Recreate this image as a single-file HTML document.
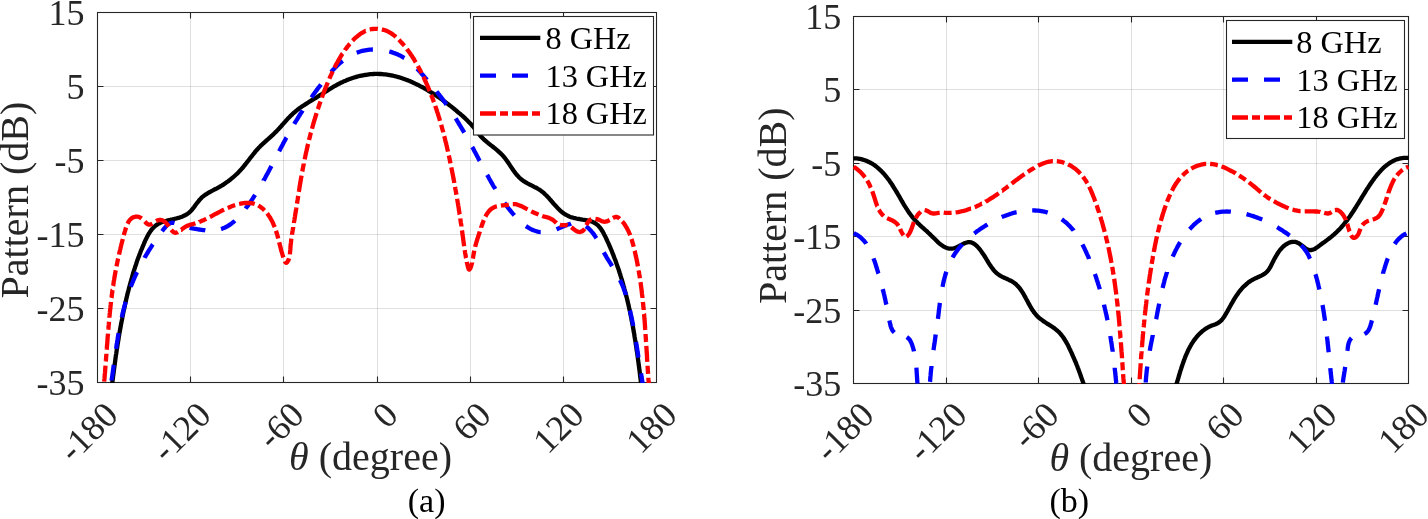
<!DOCTYPE html><html><head><meta charset="utf-8"><style>html,body{margin:0;padding:0;background:#fff;width:1428px;height:519px;overflow:hidden}svg{display:block}svg text{font-family:"Liberation Serif",serif}svg{will-change:transform}</style></head><body>
<svg width="1428" height="519" viewBox="0 0 1428 519" font-family="Liberation Serif">
<defs>
<clipPath id="ca"><rect x="97.0" y="12.0" width="560.0" height="371.0"/></clipPath>
<clipPath id="cb"><rect x="853.0" y="16.0" width="556.0" height="368.0"/></clipPath>
</defs>
<path d="M190.5,12.5V382.5M283.5,12.5V382.5M377.5,12.5V382.5M470.5,12.5V382.5M563.5,12.5V382.5" stroke="#262626" stroke-opacity="0.15" stroke-width="1" fill="none"/>
<path d="M97.5,86.5H656.5M97.5,160.5H656.5M97.5,234.5H656.5M97.5,308.5H656.5" stroke="#262626" stroke-opacity="0.15" stroke-width="1" fill="none"/>
<rect x="97.5" y="12.5" width="559.0" height="370.0" fill="none" stroke="#262626" stroke-width="1.1"/>
<path d="M190.5,382.5v-6.0M190.5,12.5v6.0M283.5,382.5v-6.0M283.5,12.5v6.0M377.5,382.5v-6.0M377.5,12.5v6.0M470.5,382.5v-6.0M470.5,12.5v6.0M563.5,382.5v-6.0M563.5,12.5v6.0M97.5,86.5h6.0M656.5,86.5h-6.0M97.5,160.5h6.0M656.5,160.5h-6.0M97.5,234.5h6.0M656.5,234.5h-6.0M97.5,308.5h6.0M656.5,308.5h-6.0" stroke="#262626" stroke-width="1.1" fill="none"/>
<g clip-path="url(#ca)" fill="none" stroke-width="4.3" stroke-linejoin="round">
<path d="M110.8,394.9L111.0,393.5L111.2,392.0L111.4,390.5L111.5,389.0L111.7,387.6L111.9,386.1L112.1,384.6L112.3,383.1L112.4,381.6L112.6,380.2L112.8,378.7L113.0,377.2L113.2,375.7L113.4,374.2L113.6,372.7L113.8,371.2L114.0,369.7L114.2,368.3L114.4,366.8L114.6,365.3L114.8,363.8L115.0,362.3L115.2,360.8L115.4,359.3L115.6,357.8L115.8,356.3L116.0,354.8L116.3,353.3L116.5,351.8L116.7,350.3L116.9,348.8L117.2,347.4L117.4,345.9L117.6,344.4L117.9,342.9L118.1,341.4L118.4,339.9L118.6,338.4L118.8,336.9L119.1,335.4L119.3,333.9L119.6,332.4L119.9,331.0L120.1,329.5L120.4,328.0L120.7,326.5L120.9,325.0L121.2,323.5L121.5,322.0L121.8,320.6L122.1,319.1L122.3,317.6L122.6,316.1L122.9,314.7L123.2,313.2L123.5,311.7L123.8,310.2L124.2,308.8L124.5,307.3L124.8,305.8L125.1,304.4L125.4,302.9L125.8,301.4L126.1,300.0L126.4,298.5L126.8,297.1L127.1,295.6L127.5,294.2L127.8,292.7L128.2,291.3L128.6,289.8L128.9,288.4L129.3,287.0L129.7,285.5L130.1,284.1L130.5,282.7L130.9,281.2L131.3,279.8L131.7,278.4L132.1,277.0L132.5,275.5L132.9,274.1L133.3,272.7L133.8,271.3L134.2,269.9L134.7,268.4L135.1,267.0L135.6,265.6L136.1,264.2L136.5,262.8L137.0,261.4L137.5,259.9L138.0,258.5L138.6,257.1L139.1,255.7L139.6,254.3L140.2,252.8L140.7,251.4L141.3,250.0L141.9,248.6L142.5,247.1L143.1,245.7L143.7,244.3L144.3,242.8L144.9,241.4L145.6,239.9L146.3,238.5L147.0,237.1L147.7,235.8L148.4,234.4L149.2,233.1L150.1,231.8L150.9,230.6L151.8,229.4L152.8,228.3L153.8,227.3L154.8,226.3L155.9,225.4L157.1,224.6L158.3,223.8L159.6,223.2L160.9,222.6L162.3,222.1L163.7,221.6L165.1,221.2L166.5,220.8L168.0,220.4L169.5,220.0L171.0,219.7L172.5,219.4L174.0,219.0L175.5,218.7L176.9,218.3L178.4,217.9L179.8,217.4L181.2,217.0L182.6,216.4L183.9,215.8L185.2,215.2L186.5,214.5L187.7,213.7L188.8,212.8L189.9,211.9L191.0,210.8L192.0,209.7L192.9,208.5L193.9,207.3L194.8,206.1L195.7,204.8L196.7,203.5L197.6,202.3L198.6,201.1L199.5,199.9L200.6,198.8L201.6,197.7L202.8,196.7L203.9,195.8L205.1,194.9L206.4,194.1L207.6,193.3L208.9,192.5L210.2,191.8L211.5,191.1L212.9,190.4L214.2,189.7L215.5,189.0L216.9,188.3L218.2,187.6L219.5,186.9L220.8,186.1L222.1,185.4L223.3,184.6L224.6,183.7L225.8,182.9L227.0,182.0L228.2,181.2L229.4,180.3L230.6,179.3L231.7,178.4L232.9,177.5L234.0,176.5L235.1,175.5L236.2,174.5L237.3,173.4L238.3,172.4L239.4,171.3L240.4,170.2L241.4,169.1L242.4,168.0L243.4,166.8L244.3,165.7L245.3,164.5L246.2,163.3L247.1,162.1L248.1,160.9L249.0,159.7L249.9,158.5L250.8,157.3L251.8,156.1L252.7,155.0L253.6,153.8L254.6,152.6L255.5,151.4L256.5,150.3L257.5,149.2L258.5,148.1L259.6,147.0L260.6,145.9L261.7,144.9L262.8,143.8L263.9,142.8L265.0,141.8L266.1,140.8L267.2,139.8L268.4,138.8L269.5,137.8L270.6,136.8L271.7,135.8L272.8,134.8L273.9,133.8L275.0,132.7L276.1,131.7L277.1,130.6L278.2,129.5L279.2,128.4L280.2,127.3L281.2,126.2L282.2,125.0L283.2,123.9L284.2,122.8L285.2,121.6L286.2,120.5L287.2,119.4L288.2,118.3L289.3,117.2L290.3,116.1L291.4,115.1L292.5,114.1L293.6,113.0L294.7,112.1L295.8,111.1L297.0,110.2L298.2,109.2L299.4,108.3L300.6,107.5L301.9,106.6L303.1,105.8L304.4,104.9L305.6,104.1L306.9,103.3L308.2,102.5L309.5,101.7L310.8,100.9L312.0,100.1L313.3,99.3L314.6,98.5L315.9,97.8L317.2,97.0L318.5,96.2L319.7,95.4L321.0,94.6L322.3,93.8L323.5,93.0L324.8,92.2L326.0,91.4L327.3,90.6L328.5,89.8L329.8,89.0L331.0,88.3L332.3,87.5L333.6,86.7L334.8,86.0L336.1,85.3L337.4,84.5L338.8,83.8L340.1,83.2L341.4,82.5L342.8,81.9L344.2,81.2L345.6,80.7L347.0,80.1L348.4,79.5L349.8,79.0L351.2,78.5L352.7,78.0L354.1,77.5L355.6,77.1L357.1,76.7L358.5,76.3L360.0,75.9L361.5,75.6L363.0,75.3L364.5,75.0L366.0,74.8L367.5,74.6L369.0,74.4L370.5,74.2L372.0,74.1L373.5,74.0L375.0,73.9L376.5,73.9L377.9,73.9L379.4,74.0L380.9,74.0L382.4,74.1L383.9,74.3L385.4,74.4L386.8,74.6L388.3,74.8L389.8,75.1L391.2,75.4L392.7,75.7L394.1,76.0L395.6,76.3L397.0,76.7L398.4,77.1L399.9,77.5L401.3,78.0L402.7,78.5L404.1,79.0L405.5,79.5L406.9,80.0L408.3,80.6L409.7,81.1L411.1,81.7L412.5,82.3L413.9,83.0L415.2,83.6L416.6,84.3L418.0,84.9L419.3,85.6L420.6,86.3L422.0,87.0L423.3,87.7L424.6,88.5L425.9,89.2L427.2,90.0L428.5,90.8L429.8,91.5L431.1,92.3L432.4,93.1L433.6,93.9L434.9,94.7L436.2,95.6L437.4,96.4L438.6,97.2L439.9,98.1L441.1,98.9L442.3,99.8L443.5,100.7L444.7,101.6L445.9,102.5L447.1,103.4L448.3,104.3L449.5,105.2L450.7,106.1L451.9,107.0L453.0,108.0L454.2,108.9L455.3,109.9L456.5,110.8L457.6,111.8L458.8,112.8L459.9,113.7L461.0,114.7L462.2,115.7L463.3,116.7L464.4,117.7L465.5,118.7L466.6,119.8L467.6,120.8L468.7,121.9L469.8,123.0L470.8,124.0L471.8,125.2L472.8,126.3L473.8,127.4L474.7,128.6L475.6,129.8L476.6,131.0L477.5,132.2L478.4,133.4L479.4,134.6L480.3,135.7L481.3,136.8L482.3,137.9L483.4,138.9L484.5,140.0L485.6,140.9L486.7,141.9L487.9,142.8L489.1,143.8L490.2,144.7L491.4,145.6L492.6,146.5L493.8,147.5L495.0,148.4L496.1,149.3L497.3,150.3L498.4,151.3L499.5,152.3L500.6,153.3L501.7,154.4L502.7,155.5L503.7,156.6L504.7,157.8L505.6,159.0L506.5,160.2L507.4,161.5L508.3,162.8L509.2,164.1L510.0,165.4L510.9,166.7L511.7,167.9L512.6,169.2L513.5,170.5L514.4,171.7L515.3,173.0L516.2,174.1L517.2,175.3L518.2,176.4L519.2,177.5L520.3,178.5L521.4,179.4L522.5,180.3L523.7,181.1L525.0,181.9L526.2,182.7L527.5,183.4L528.9,184.1L530.2,184.8L531.5,185.4L532.9,186.1L534.2,186.8L535.6,187.5L536.9,188.2L538.2,189.0L539.4,189.7L540.7,190.6L541.9,191.5L543.1,192.4L544.2,193.4L545.3,194.5L546.4,195.5L547.4,196.6L548.5,197.7L549.5,198.9L550.5,200.0L551.5,201.2L552.5,202.3L553.5,203.5L554.5,204.6L555.6,205.8L556.6,206.9L557.6,208.0L558.6,209.0L559.7,210.1L560.8,211.1L561.9,212.0L563.0,212.9L564.2,213.7L565.4,214.5L566.7,215.2L567.9,215.8L569.3,216.4L570.6,216.9L572.0,217.4L573.4,217.8L574.9,218.1L576.3,218.5L577.8,218.8L579.4,219.0L580.9,219.3L582.5,219.6L584.0,219.8L585.6,220.1L587.1,220.4L588.6,220.7L590.1,221.1L591.5,221.6L592.9,222.1L594.2,222.7L595.4,223.4L596.5,224.2L597.6,225.1L598.6,226.1L599.6,227.2L600.5,228.3L601.3,229.5L602.1,230.7L602.9,232.0L603.6,233.3L604.3,234.7L605.0,236.0L605.7,237.4L606.3,238.8L607.0,240.2L607.6,241.6L608.3,243.0L608.9,244.4L609.5,245.8L610.1,247.2L610.7,248.6L611.3,250.0L611.9,251.4L612.4,252.8L613.0,254.2L613.5,255.6L614.1,257.1L614.6,258.5L615.2,259.9L615.7,261.3L616.2,262.7L616.7,264.1L617.2,265.6L617.7,267.0L618.2,268.4L618.7,269.8L619.2,271.3L619.6,272.7L620.1,274.1L620.5,275.6L621.0,277.0L621.4,278.4L621.9,279.9L622.3,281.3L622.7,282.8L623.1,284.2L623.5,285.6L624.0,287.1L624.3,288.5L624.7,290.0L625.1,291.4L625.5,292.9L625.9,294.3L626.2,295.8L626.6,297.2L627.0,298.7L627.3,300.2L627.7,301.6L628.0,303.1L628.4,304.5L628.7,306.0L629.0,307.4L629.3,308.9L629.7,310.4L630.0,311.8L630.3,313.3L630.6,314.8L630.9,316.2L631.2,317.7L631.5,319.2L631.7,320.7L632.0,322.1L632.3,323.6L632.6,325.1L632.9,326.5L633.1,328.0L633.4,329.5L633.6,331.0L633.9,332.5L634.2,333.9L634.4,335.4L634.6,336.9L634.9,338.4L635.1,339.9L635.4,341.3L635.6,342.8L635.8,344.3L636.1,345.8L636.3,347.3L636.5,348.8L636.7,350.2L636.9,351.7L637.2,353.2L637.4,354.7L637.6,356.2L637.8,357.7L638.0,359.2L638.2,360.7L638.4,362.2L638.6,363.6L638.8,365.1L639.0,366.6L639.2,368.1L639.4,369.6L639.6,371.1L639.8,372.6L639.9,374.1L640.1,375.6L640.3,377.1L640.5,378.6L640.7,380.1L640.9,381.6L641.1,383.1L641.2,384.6L641.4,386.1L641.6,387.5L641.8,389.0L642.0,390.5L642.2,392.0L642.3,393.5L642.5,395.0" stroke="#000"/>
<path d="M111.6,380.6L111.6,380.2L111.8,378.7L112.1,377.2L112.3,375.7L112.5,374.2L112.7,372.7L112.9,371.2L113.1,369.7L113.3,368.2L113.5,366.8L113.7,365.3L113.8,364.8M116.1,348.9L116.1,348.9L116.3,347.4L116.5,345.9L116.7,344.4L117.0,342.9L117.2,341.4L117.5,339.9L117.7,338.4L117.9,337.0L118.2,335.5L118.4,334.0L118.6,333.1M121.7,317.4L122.0,316.3L122.3,314.9L122.6,313.4L123.0,312.0L123.3,310.5L123.7,309.1L124.1,307.6L124.5,306.2L124.9,304.7L125.3,303.3L125.7,301.9M130.7,286.8L130.9,286.3L131.5,284.9L132.1,283.5L132.6,282.1L133.2,280.7L133.8,279.3L134.4,277.9L135.0,276.6L135.6,275.2L136.3,273.8L136.9,272.4L137.1,272.1M144.5,257.9L144.6,257.7L145.4,256.4L146.1,255.1L146.9,253.8L147.7,252.5L148.5,251.2L149.3,249.9L150.1,248.6L150.9,247.4L151.7,246.1L152.5,244.8L152.9,244.3M162.1,231.2L163.0,230.0L163.9,228.8L164.9,227.7L165.8,226.6L166.8,225.5L167.8,224.6L168.9,223.9L170.0,223.3L171.1,222.9L172.4,222.7L173.7,222.8L174.5,223.0M189.6,227.7L191.1,228.1L192.5,228.4L194.0,228.7L195.5,228.9L197.1,229.2L198.6,229.5L200.1,229.7L201.7,229.9L203.2,230.1L204.7,230.2L205.3,230.3M221.0,229.0L222.4,228.6L223.7,228.1L225.0,227.5L226.3,226.8L227.6,226.2L228.8,225.4L230.0,224.6L231.2,223.8L232.3,222.9L233.5,222.0L234.6,221.0L234.9,220.7M245.6,208.6L246.5,207.3L247.5,206.1L248.4,204.9L249.2,203.6L250.1,202.4L251.0,201.1L251.8,199.9L252.7,198.6L253.5,197.3L254.3,196.1L255.1,194.9M263.6,180.6L263.6,180.5L264.4,179.2L265.1,177.9L265.8,176.6L266.5,175.2L267.3,173.9L268.0,172.6L268.7,171.3L269.4,169.9L270.1,168.6L270.8,167.3L271.4,166.0M279.1,151.3L279.8,150.0L280.5,148.6L281.2,147.3L281.9,146.0L282.6,144.7L283.3,143.3L284.0,142.0L284.7,140.7L285.4,139.4L286.1,138.1L286.5,137.5M294.3,123.9L295.0,122.6L295.8,121.3L296.6,120.1L297.4,118.8L298.2,117.5L298.9,116.3L299.7,115.0L300.5,113.7L301.3,112.5L302.2,111.2L302.6,110.5M311.4,97.5L312.3,96.3L313.1,95.0L314.0,93.8L314.9,92.6L315.8,91.3L316.7,90.1L317.6,88.9L318.5,87.6L319.5,86.4L320.4,85.2L320.9,84.5M331.1,72.0L332.1,70.9L333.1,69.8L334.2,68.7L335.2,67.6L336.3,66.6L337.4,65.5L338.5,64.5L339.6,63.5L340.7,62.5L341.8,61.6L342.8,60.9M356.7,52.7L358.1,52.2L359.5,51.7L360.9,51.3L362.3,50.9L363.7,50.6L365.2,50.3L366.6,50.1L368.1,49.9L369.6,49.7L371.1,49.6L372.6,49.5L372.9,49.5M389.3,51.5L390.8,51.9L392.3,52.4L393.7,52.9L395.2,53.4L396.6,54.0L398.0,54.6L399.3,55.2L400.7,55.9L402.0,56.6L403.3,57.4L404.4,58.0M417.0,68.7L418.1,69.7L419.1,70.8L420.1,71.9L421.1,73.1L422.1,74.2L423.1,75.3L424.1,76.4L425.0,77.6L426.0,78.7L427.0,79.9L427.0,79.9M436.6,91.5L437.5,92.6L438.4,93.8L439.4,95.0L440.3,96.2L441.2,97.4L442.1,98.6L443.0,99.8L443.9,101.0L444.8,102.2L445.6,103.4L446.5,104.6M455.7,118.4L456.5,119.7L457.2,120.9L458.0,122.2L458.8,123.5L459.6,124.8L460.4,126.1L461.1,127.4L461.9,128.7L462.7,130.0L463.4,131.2L464.2,132.6L464.2,132.6M472.2,147.0L473.0,148.3L473.7,149.6L474.4,151.0L475.1,152.3L475.8,153.6L476.5,154.9L477.2,156.3L477.9,157.6L478.6,158.9L479.3,160.3L479.7,160.9M487.1,174.8L487.9,176.1L488.6,177.4L489.3,178.8L490.1,180.1L490.8,181.4L491.5,182.7L492.3,184.0L493.0,185.3L493.8,186.6L494.6,187.8L495.3,189.1L495.3,189.1M504.4,202.9L505.3,204.1L506.2,205.3L507.1,206.5L508.0,207.7L508.9,208.9L509.9,210.1L510.8,211.3L511.8,212.4L512.8,213.6L513.8,214.7L514.3,215.3M525.9,226.1L527.1,226.9L528.4,227.7L529.6,228.4L530.9,229.1L532.2,229.7L533.5,230.3L534.9,230.8L536.3,231.2L537.7,231.6L539.1,231.9L540.5,232.1L540.7,232.1M556.5,229.3L557.9,228.7L559.4,228.1L560.9,227.4L562.3,226.8L563.8,226.2L565.2,225.6L566.6,225.0L568.1,224.5L569.5,224.1L570.9,223.7L571.1,223.6M585.9,226.3L587.2,227.2L588.4,228.2L589.5,229.3L590.6,230.4L591.6,231.6L592.6,232.7L593.5,233.9L594.4,235.1L595.2,236.4L596.0,237.6L596.4,238.2M603.8,252.4L604.4,253.4L605.1,254.7L605.9,256.0L606.6,257.3L607.4,258.6L608.2,259.9L609.0,261.1L609.8,262.4L610.6,263.7L611.4,265.0L612.1,266.1M620.0,280.0L620.4,280.8L621.0,282.1L621.6,283.5L622.2,284.8L622.8,286.2L623.3,287.6L623.8,289.0L624.3,290.4L624.8,291.8L625.3,293.2L625.8,294.7L625.8,294.9M629.9,310.4L630.0,310.6L630.3,312.0L630.6,313.5L631.0,315.0L631.3,316.4L631.6,317.9L631.9,319.4L632.2,320.8L632.5,322.3L632.8,323.8L633.1,325.3L633.2,326.0M636.0,341.8L636.2,343.0L636.4,344.5L636.7,346.0L636.9,347.5L637.2,349.0L637.4,350.5L637.6,352.0L637.9,353.5L638.1,354.9L638.3,356.4L638.5,357.6M641.0,373.4L641.2,374.3L641.4,375.7L641.6,377.2L641.9,378.7L642.1,380.2L642.4,381.7L642.6,383.2L642.9,384.6L643.1,386.1L643.4,387.6L643.6,389.1L643.7,389.1" stroke="#00f"/>
<path d="M103.1,393.5L103.1,393.4L103.2,392.0L103.4,390.5L103.5,389.0L103.7,387.6L103.8,386.1L103.9,385.6M104.2,381.6L104.3,380.2L104.5,378.7L104.6,377.2L104.7,375.7L104.8,374.2L105.0,372.7L105.1,371.2L105.2,369.7L105.3,368.2L105.4,366.7L105.5,365.6M105.8,361.6L105.9,360.7L106.0,359.2L106.1,357.7L106.2,356.2L106.4,354.7L106.4,353.7M106.7,349.7L106.8,348.7L106.9,347.2L107.0,345.6L107.2,344.1L107.3,342.6L107.4,341.1L107.5,339.6L107.6,338.1L107.7,336.6L107.9,335.1L108.0,333.7M108.3,329.7L108.4,329.0L108.5,327.5L108.6,326.0L108.8,324.5L108.9,323.0L109.0,321.8M109.4,317.8L109.4,317.0L109.6,315.5L109.7,314.0L109.9,312.5L110.0,311.0L110.2,309.5L110.4,308.0L110.5,306.5L110.7,305.0L110.8,303.5L111.0,302.0L111.0,301.9M111.5,297.9L111.6,297.5L111.7,296.1L111.9,294.6L112.1,293.1L112.3,291.6L112.5,290.1L112.6,290.0M113.1,286.0L113.2,285.7L113.4,284.3L113.6,282.8L113.8,281.3L114.1,279.9L114.3,278.4L114.6,277.0L114.8,275.5L115.1,274.0L115.3,272.6L115.6,271.1L115.8,270.2M116.5,266.3L116.7,265.3L117.0,263.9L117.3,262.4L117.6,260.9L117.9,259.5L118.1,258.5M119.0,254.6L119.2,253.6L119.6,252.1L119.9,250.7L120.3,249.2L120.6,247.7L121.0,246.2L121.3,244.7L121.7,243.2L122.1,241.7L122.5,240.2L122.8,239.0M123.8,235.2L124.1,234.2L124.5,232.6L125.0,231.1L125.4,229.6L125.9,228.0L126.1,227.5M127.5,223.7L128.2,222.4L128.9,221.2L129.7,220.1L130.6,219.1L131.6,218.3L132.7,217.6L134.0,217.1L135.3,216.7L136.6,216.6L138.0,216.7L139.4,217.1L140.7,217.8L141.6,218.5M144.8,221.6L145.5,222.3L146.6,223.4L147.8,224.2L149.0,224.6L150.3,224.6L151.7,224.1L152.4,223.7M156.1,221.2L157.5,220.4L159.0,220.0L160.3,219.9L161.6,220.1L162.9,220.5L164.1,221.3L165.3,222.2L166.4,223.3L167.4,224.5L168.4,225.9L168.9,226.6M171.2,229.9L172.1,230.9L173.1,231.8L174.1,232.5L175.1,232.8L176.2,232.7L177.4,232.3L177.9,232.0M181.1,229.8L181.2,229.8L182.5,228.7L183.9,227.7L185.3,226.8L186.7,226.0L188.1,225.4L189.5,224.9L190.9,224.5L192.4,224.2L193.8,223.8L195.1,223.4L195.4,223.3M199.1,222.0L199.2,221.9L200.6,221.4L201.9,220.8L203.3,220.2L204.6,219.6L205.9,219.0L206.3,218.8M209.9,217.0L211.2,216.3L212.5,215.6L213.8,214.9L215.1,214.2L216.5,213.5L217.8,212.8L219.1,212.1L220.5,211.4L221.8,210.7L223.2,210.0L224.1,209.6M227.7,207.9L228.8,207.5L230.2,206.9L231.7,206.3L233.1,205.8L234.6,205.3L235.2,205.1M239.1,204.0L240.6,203.7L242.1,203.4L243.6,203.2L245.1,203.0L246.6,203.0L248.1,202.9L249.5,203.0L251.0,203.1L252.4,203.4L253.8,203.7L254.7,204.0M258.3,205.5L259.1,206.0L260.3,206.8L261.5,207.7L262.7,208.6L263.8,209.7L264.5,210.4M267.1,213.4L267.8,214.3L268.7,215.6L269.6,216.9L270.4,218.2L271.1,219.5L271.8,220.8L272.5,222.1L273.1,223.4L273.7,224.8L274.3,226.1L274.7,227.1M276.0,230.8L276.3,231.7L276.7,233.2L277.2,234.6L277.6,236.1L278.0,237.6L278.2,238.4M279.2,242.2L279.5,243.6L279.9,245.1L280.3,246.6L280.7,248.1L281.0,249.6L281.4,251.1L281.9,252.5L282.3,254.0L282.7,255.4L283.2,256.9L283.4,257.5M284.7,261.2L285.2,262.1L285.9,262.8L286.6,262.7L287.4,261.9L288.1,260.7L288.8,259.3L289.1,258.3M289.9,254.4L290.0,253.1L290.1,251.6L290.3,250.0L290.4,248.4L290.5,246.8L290.6,245.3L290.8,243.8L291.0,242.2L291.1,240.7L291.3,239.2L291.4,238.7M292.0,234.8L292.0,234.7L292.2,233.3L292.4,231.8L292.7,230.3L292.9,228.9L293.2,227.4L293.2,227.0M293.9,223.1L293.9,223.0L294.1,221.5L294.4,220.1L294.6,218.6L294.9,217.1L295.1,215.7L295.3,214.2L295.6,212.7L295.8,211.2L296.0,209.8L296.3,208.3L296.4,207.5M297.0,203.6L297.2,202.3L297.4,200.9L297.7,199.4L297.9,197.9L298.1,196.4L298.2,195.8M298.8,191.9L299.1,190.4L299.3,189.0L299.5,187.5L299.8,186.0L300.0,184.5L300.3,183.0L300.5,181.5L300.8,180.0L301.0,178.5L301.3,177.0L301.6,175.6M302.3,171.5L302.4,171.1L302.6,169.6L302.9,168.2L303.2,166.7L303.5,165.2L303.8,163.7L303.8,163.4M304.7,159.3L305.0,157.8L305.3,156.4L305.6,154.9L305.9,153.4L306.2,152.0L306.6,150.5L306.9,149.0L307.2,147.6L307.6,146.1L307.9,144.6L308.1,143.9M309.0,140.1L309.3,138.8L309.7,137.4L310.1,135.9L310.4,134.5L310.8,133.0L311.0,132.5M312.0,128.7L312.4,127.2L312.8,125.8L313.2,124.3L313.6,122.9L314.0,121.5L314.5,120.0L314.9,118.6L315.3,117.2L315.8,115.7L316.2,114.3L316.6,113.1M317.9,109.2L318.1,108.6L318.5,107.2L319.0,105.8L319.5,104.3L320.0,102.9L320.5,101.5L320.5,101.5M321.9,97.6L322.0,97.3L322.5,95.9L323.0,94.4L323.6,93.0L324.1,91.6L324.7,90.2L325.2,88.8L325.8,87.4L326.3,86.0L326.9,84.6L327.5,83.2L327.8,82.5M329.4,78.7L329.8,77.7L330.4,76.3L331.1,74.9L331.7,73.6L332.3,72.2L332.7,71.3M334.5,67.7L335.0,66.8L335.6,65.4L336.3,64.1L337.1,62.8L337.8,61.5L338.5,60.1L339.3,58.8L340.0,57.6L340.8,56.3L341.6,55.0L342.4,53.7L342.6,53.5M344.9,50.2L345.0,50.0L345.9,48.8L346.8,47.6L347.7,46.4L348.7,45.3L349.6,44.1L349.9,43.8M352.6,40.7L353.7,39.6L354.7,38.6L355.8,37.5L357.0,36.6L358.1,35.6L359.3,34.7L360.5,33.8L361.7,33.0L363.0,32.3L364.3,31.6L365.6,30.9L365.7,30.9M369.7,29.5L369.7,29.5L371.2,29.2L372.7,29.0L374.2,28.8L375.8,28.8L377.3,28.8L377.9,28.9M381.9,29.4L383.4,29.8L384.9,30.3L386.4,30.8L387.7,31.4L389.1,32.1L390.4,32.8L391.6,33.6L392.9,34.5L394.0,35.4L395.2,36.3L396.0,37.0M398.9,39.8L399.6,40.5L400.6,41.6L401.6,42.7L402.6,43.8L403.6,44.9L404.4,45.8M406.9,49.0L407.3,49.6L408.2,50.8L409.1,52.0L410.0,53.2L410.8,54.5L411.7,55.7L412.5,57.0L413.3,58.2L414.1,59.5L414.8,60.8L415.6,62.1L415.8,62.4M417.8,66.0L417.8,66.0L418.6,67.4L419.3,68.7L420.0,70.0L420.7,71.4L421.3,72.7L421.5,73.1M423.3,76.8L424.0,78.1L424.6,79.5L425.2,80.8L425.9,82.2L426.5,83.6L427.1,84.9L427.7,86.3L428.3,87.7L428.8,89.1L429.4,90.5L429.7,91.2M431.1,94.8L431.6,96.0L432.2,97.4L432.7,98.8L433.2,100.2L433.7,101.6L433.9,102.2M435.2,105.9L435.7,107.3L436.2,108.7L436.7,110.1L437.1,111.6L437.6,113.0L438.1,114.4L438.5,115.9L439.0,117.3L439.4,118.7L439.8,120.2L440.0,120.9M441.2,124.7L441.5,125.9L441.9,127.4L442.3,128.8L442.7,130.3L443.1,131.7L443.2,132.3M444.2,136.1L444.6,137.5L445.0,139.0L445.3,140.5L445.7,141.9L446.1,143.4L446.4,144.8L446.8,146.3L447.1,147.8L447.4,149.2L447.8,150.7L448.0,151.6M448.8,155.5L449.1,156.6L449.4,158.1L449.7,159.5L450.0,161.0L450.3,162.5L450.5,163.4M451.3,167.3L451.5,168.4L451.8,169.9L452.1,171.3L452.4,172.8L452.7,174.3L453.0,175.8L453.3,177.2L453.5,178.7L453.8,180.2L454.1,181.7L454.3,183.0M455.1,186.9L455.2,187.6L455.4,189.1L455.7,190.5L456.0,192.0L456.2,193.5L456.5,194.8M457.1,198.7L457.2,199.4L457.5,200.9L457.7,202.4L458.0,203.8L458.2,205.3L458.5,206.8L458.7,208.3L458.9,209.8L459.2,211.2L459.4,212.7L459.6,214.2L459.7,214.5M460.3,218.5L460.3,218.6L460.5,220.1L460.7,221.6L460.9,223.1L461.2,224.5L461.4,226.0L461.4,226.4M462.0,230.4L462.0,230.4L462.2,231.9L462.4,233.4L462.6,234.9L462.8,236.3L463.0,237.8L463.2,239.3L463.4,240.8L463.6,242.3L463.8,243.8L464.0,245.3L464.1,246.2M464.7,250.2L464.9,251.3L465.1,252.8L465.4,254.3L465.7,255.9L465.9,257.4L466.1,258.1M466.8,262.0L466.8,262.1L467.2,263.7L467.5,265.3L467.9,266.8L468.3,268.2L468.7,269.2L469.2,269.6L469.7,269.3L470.3,268.4L470.8,267.2L471.3,265.8L471.7,264.3L472.1,262.8L472.1,262.5M472.9,258.6L473.0,258.0L473.2,256.4L473.5,254.8L473.8,253.2L474.1,251.7L474.3,250.7M475.2,246.8L475.4,245.8L475.8,244.4L476.2,243.0L476.6,241.7L477.0,240.3L477.4,238.9L477.9,237.5L478.3,236.2L478.8,234.8L479.2,233.4L479.7,232.0L479.8,231.5M481.1,227.7L481.1,227.6L481.6,226.1L482.1,224.6L482.7,223.1L483.2,221.6L483.8,220.2M485.4,216.6L485.8,215.9L486.5,214.6L487.3,213.3L488.2,212.2L489.1,211.0L490.0,210.0L491.1,209.1L492.2,208.3L493.4,207.6L494.7,207.0L496.0,206.5L496.9,206.3M500.9,205.6L502.1,205.4L503.6,205.3L505.2,205.1L506.7,205.0L508.3,204.8L508.8,204.7M512.8,204.1L514.0,204.1L515.4,204.2L516.8,204.4L518.2,204.9L519.6,205.4L521.0,206.0L522.4,206.7L523.8,207.4L525.2,208.2L526.6,208.9L527.6,209.4M531.2,211.3L532.0,211.7L533.3,212.3L534.7,212.9L536.0,213.6L537.4,214.1L538.5,214.6M542.2,215.9L543.0,216.2L544.4,216.6L545.9,217.0L547.3,217.4L548.7,217.8L550.1,218.4L551.5,219.1L552.8,219.9L554.0,220.8L555.2,221.8L556.3,222.8L556.4,222.9M559.8,224.9L560.1,225.0L561.5,225.2L562.9,225.2L564.5,225.2L566.0,225.2L567.5,225.4L567.7,225.5M571.3,227.3L571.6,227.5L572.9,228.5L574.2,229.5L575.5,230.4L576.7,231.2L578.0,231.7L579.3,232.0L580.6,231.8L581.9,231.4L583.1,230.6L584.1,229.5L584.7,228.7M586.4,225.1L587.0,223.9L587.7,222.5L588.6,221.2L589.6,220.2L590.9,219.5L591.5,219.3M595.4,218.8L596.9,219.1L598.4,219.6L599.9,220.2L601.3,220.9L602.7,221.4L604.1,221.8L605.4,221.7L606.8,221.4L608.2,220.8L609.7,220.0L609.7,220.0M612.9,218.0L614.0,217.4L615.4,216.9L616.8,216.9L618.0,217.4L619.2,218.2L619.7,218.7M622.3,221.5L623.3,222.6L624.2,223.8L625.0,225.0L625.8,226.3L626.6,227.6L627.3,228.9L628.0,230.2L628.6,231.5L629.2,232.9L629.8,234.2L630.2,235.3M631.5,239.1L631.8,239.9L632.2,241.4L632.6,242.8L633.0,244.3L633.4,245.7L633.7,246.8M634.6,250.7L634.9,251.6L635.2,253.1L635.5,254.6L635.8,256.1L636.2,257.6L636.5,259.0L636.8,260.5L637.1,262.0L637.4,263.5L637.6,265.0L637.9,266.4M638.6,270.3L638.7,270.9L639.0,272.4L639.2,273.9L639.5,275.4L639.7,276.8L639.9,278.2M640.5,282.1L640.6,282.8L640.8,284.3L641.0,285.8L641.2,287.2L641.4,288.7L641.6,290.2L641.8,291.7L641.9,293.2L642.1,294.7L642.3,296.2L642.5,297.7L642.5,298.0M642.9,302.0L642.9,302.1L643.1,303.6L643.2,305.1L643.4,306.6L643.5,308.1L643.7,309.6L643.7,310.0M644.0,313.9L644.1,314.1L644.2,315.6L644.3,317.1L644.4,318.6L644.6,320.1L644.7,321.6L644.8,323.0L644.9,324.5L645.0,326.0L645.1,327.5L645.2,329.0L645.3,329.9M645.6,333.9L645.6,335.0L645.7,336.5L645.8,338.0L645.9,339.5L646.0,341.0L646.1,341.9M646.3,345.9L646.4,347.0L646.5,348.5L646.6,350.0L646.7,351.5L646.8,353.0L646.9,354.5L647.0,356.0L647.0,357.5L647.1,359.0L647.2,360.5L647.3,361.8M647.6,365.8L647.6,366.5L647.7,368.0L647.8,369.5L647.9,371.0L648.0,372.5L648.1,373.8M648.4,377.8L648.4,378.5L648.5,380.0L648.7,381.5L648.8,383.0L648.9,384.5L649.0,386.0L649.1,387.5L649.2,389.0L649.4,390.5L649.5,392.0L649.6,393.5L649.6,393.7" stroke="#f00"/>
</g>
<text x="84.5" y="24.8" font-size="36" text-anchor="end" fill="#262626">15</text>
<text x="84.5" y="98.8" font-size="36" text-anchor="end" fill="#262626">5</text>
<text x="84.5" y="172.8" font-size="36" text-anchor="end" fill="#262626">-5</text>
<text x="84.5" y="246.8" font-size="36" text-anchor="end" fill="#262626">-15</text>
<text x="84.5" y="320.8" font-size="36" text-anchor="end" fill="#262626">-25</text>
<text x="84.5" y="394.8" font-size="36" text-anchor="end" fill="#262626">-35</text>
<text transform="translate(111.5,408.5) rotate(-45)" font-size="36" text-anchor="end" dominant-baseline="central" fill="#262626">-180</text>
<text transform="translate(204.5,408.5) rotate(-45)" font-size="36" text-anchor="end" dominant-baseline="central" fill="#262626">-120</text>
<text transform="translate(297.5,408.5) rotate(-45)" font-size="36" text-anchor="end" dominant-baseline="central" fill="#262626">-60</text>
<text transform="translate(391.5,408.5) rotate(-45)" font-size="36" text-anchor="end" dominant-baseline="central" fill="#262626">0</text>
<text transform="translate(484.5,408.5) rotate(-45)" font-size="36" text-anchor="end" dominant-baseline="central" fill="#262626">60</text>
<text transform="translate(577.5,408.5) rotate(-45)" font-size="36" text-anchor="end" dominant-baseline="central" fill="#262626">120</text>
<text transform="translate(670.5,408.5) rotate(-45)" font-size="36" text-anchor="end" dominant-baseline="central" fill="#262626">180</text>
<rect x="473.5" y="16.5" width="180.0" height="118.5" fill="#fff" stroke="#262626" stroke-width="1.1"/>
<path d="M480.0,37.9H540.3" stroke="#000" stroke-width="4.3"/>
<path d="M480.0,75.7H540.3" stroke="#00f" stroke-width="4.3" stroke-dasharray="16,16"/>
<path d="M480.0,113.5H540.3" stroke="#f00" stroke-width="4.3" stroke-dasharray="16,4,8,4"/>
<text x="545.5" y="48.7" font-size="32.3" fill="#000">8 GHz</text>
<text x="545.5" y="86.5" font-size="32.3" fill="#000">13 GHz</text>
<text x="545.5" y="124.3" font-size="32.3" fill="#000">18 GHz</text>
<path d="M946.5,16.5V383.5M1038.5,16.5V383.5M1131.5,16.5V383.5M1223.5,16.5V383.5M1316.5,16.5V383.5" stroke="#262626" stroke-opacity="0.15" stroke-width="1" fill="none"/>
<path d="M853.5,89.5H1408.5M853.5,163.5H1408.5M853.5,236.5H1408.5M853.5,310.5H1408.5" stroke="#262626" stroke-opacity="0.15" stroke-width="1" fill="none"/>
<rect x="853.5" y="16.5" width="555.0" height="367.0" fill="none" stroke="#262626" stroke-width="1.1"/>
<path d="M946.5,383.5v-6.0M946.5,16.5v6.0M1038.5,383.5v-6.0M1038.5,16.5v6.0M1131.5,383.5v-6.0M1131.5,16.5v6.0M1223.5,383.5v-6.0M1223.5,16.5v6.0M1316.5,383.5v-6.0M1316.5,16.5v6.0M853.5,89.5h6.0M1408.5,89.5h-6.0M853.5,163.5h6.0M1408.5,163.5h-6.0M853.5,236.5h6.0M1408.5,236.5h-6.0M853.5,310.5h6.0M1408.5,310.5h-6.0" stroke="#262626" stroke-width="1.1" fill="none"/>
<g clip-path="url(#cb)" fill="none" stroke-width="4.3" stroke-linejoin="round">
<path d="M853.4,158.3L855.0,158.3L856.6,158.4L858.2,158.6L859.7,158.9L861.2,159.2L862.7,159.6L864.1,160.0L865.5,160.5L866.9,161.1L868.3,161.7L869.6,162.3L870.9,163.0L872.1,163.7L873.4,164.5L874.6,165.3L875.8,166.2L876.9,167.1L878.1,168.1L879.2,169.1L880.3,170.1L881.4,171.1L882.4,172.2L883.4,173.3L884.4,174.4L885.4,175.6L886.4,176.8L887.3,178.0L888.2,179.2L889.2,180.4L890.0,181.7L890.9,182.9L891.8,184.2L892.6,185.5L893.4,186.8L894.2,188.1L895.0,189.4L895.8,190.7L896.6,192.0L897.4,193.3L898.1,194.6L898.9,195.9L899.7,197.3L900.4,198.6L901.2,199.9L901.9,201.2L902.7,202.5L903.4,203.8L904.2,205.1L905.0,206.4L905.8,207.6L906.6,208.9L907.4,210.1L908.2,211.4L909.0,212.6L909.9,213.8L910.8,215.0L911.7,216.2L912.6,217.3L913.5,218.4L914.5,219.6L915.5,220.7L916.5,221.7L917.5,222.8L918.6,223.8L919.6,224.8L920.7,225.9L921.8,226.9L923.0,227.9L924.1,228.9L925.2,229.9L926.4,230.9L927.5,231.9L928.6,233.0L929.8,234.1L930.9,235.2L932.0,236.3L933.2,237.4L934.3,238.5L935.4,239.6L936.5,240.7L937.6,241.8L938.7,242.8L939.9,243.8L941.0,244.7L942.2,245.5L943.3,246.3L944.5,247.0L945.7,247.5L947.0,248.0L948.2,248.4L949.5,248.6L950.8,248.7L952.1,248.6L953.5,248.4L954.9,248.0L956.3,247.4L957.8,246.7L959.3,246.0L960.8,245.2L962.3,244.4L963.8,243.6L965.3,243.0L966.8,242.5L968.2,242.2L969.6,242.2L971.0,242.4L972.3,242.8L973.6,243.5L974.9,244.3L976.1,245.3L977.2,246.4L978.3,247.6L979.4,248.9L980.4,250.1L981.3,251.4L982.2,252.7L983.1,254.0L984.0,255.3L984.8,256.5L985.6,257.8L986.3,259.1L987.1,260.3L987.9,261.6L988.6,262.8L989.4,264.1L990.2,265.3L991.0,266.5L991.9,267.7L992.8,268.9L993.7,270.1L994.7,271.2L995.8,272.3L996.9,273.3L998.0,274.2L999.3,275.1L1000.6,275.9L1001.9,276.6L1003.3,277.3L1004.7,277.9L1006.1,278.6L1007.5,279.2L1008.9,279.9L1010.3,280.5L1011.6,281.2L1012.9,282.0L1014.1,282.8L1015.3,283.7L1016.4,284.7L1017.4,285.7L1018.4,286.8L1019.4,287.9L1020.3,289.1L1021.1,290.3L1022.0,291.6L1022.8,292.8L1023.6,294.1L1024.3,295.5L1025.1,296.8L1025.8,298.2L1026.5,299.5L1027.3,300.9L1028.0,302.3L1028.7,303.7L1029.5,305.0L1030.2,306.4L1031.0,307.7L1031.8,309.0L1032.6,310.3L1033.5,311.5L1034.3,312.7L1035.3,313.9L1036.2,315.0L1037.2,316.1L1038.3,317.1L1039.4,318.1L1040.6,319.0L1041.8,319.9L1043.0,320.8L1044.2,321.7L1045.5,322.5L1046.7,323.3L1048.0,324.1L1049.3,324.9L1050.5,325.7L1051.8,326.5L1053.0,327.4L1054.3,328.2L1055.4,329.1L1056.6,330.1L1057.7,331.0L1058.8,332.0L1059.8,333.1L1060.8,334.2L1061.7,335.4L1062.6,336.5L1063.5,337.8L1064.3,339.0L1065.1,340.3L1065.9,341.6L1066.6,342.9L1067.4,344.3L1068.1,345.6L1068.8,347.0L1069.4,348.4L1070.1,349.7L1070.7,351.1L1071.4,352.5L1072.0,353.9L1072.6,355.3L1073.2,356.7L1073.8,358.0L1074.4,359.4L1075.0,360.8L1075.6,362.2L1076.2,363.6L1076.7,365.0L1077.3,366.4L1077.8,367.8L1078.4,369.2L1078.9,370.6L1079.4,372.0L1079.9,373.4L1080.4,374.8L1080.9,376.2L1081.4,377.6L1081.9,379.1L1082.4,380.5L1082.9,381.9L1083.4,383.3L1083.8,384.8L1084.3,386.2L1084.7,387.6L1085.2,389.1L1085.6,390.5L1086.1,392.0" stroke="#000"/>
<path d="M1174.0,391.9L1174.4,390.5L1174.9,389.1L1175.3,387.7L1175.8,386.3L1176.2,384.9L1176.7,383.5L1177.1,382.1L1177.5,380.6L1178.0,379.2L1178.4,377.7L1178.8,376.3L1179.3,374.8L1179.7,373.3L1180.1,371.9L1180.6,370.4L1181.1,368.9L1181.5,367.5L1182.0,366.0L1182.5,364.6L1183.0,363.1L1183.5,361.7L1184.0,360.2L1184.6,358.8L1185.1,357.4L1185.7,355.9L1186.3,354.5L1186.9,353.2L1187.5,351.8L1188.1,350.4L1188.8,349.1L1189.5,347.7L1190.2,346.4L1191.0,345.1L1191.7,343.8L1192.5,342.6L1193.3,341.3L1194.2,340.1L1195.1,338.9L1196.0,337.8L1196.9,336.6L1197.9,335.5L1198.9,334.4L1200.0,333.3L1201.1,332.3L1202.2,331.3L1203.4,330.4L1204.6,329.5L1205.8,328.6L1207.1,327.8L1208.4,327.1L1209.8,326.4L1211.2,325.8L1212.7,325.2L1214.2,324.7L1215.6,324.2L1217.0,323.6L1218.3,322.9L1219.4,322.0L1220.5,321.1L1221.6,320.1L1222.5,319.0L1223.4,317.8L1224.3,316.5L1225.1,315.2L1225.9,313.9L1226.6,312.6L1227.4,311.2L1228.1,309.9L1228.9,308.5L1229.6,307.2L1230.4,305.8L1231.1,304.5L1231.9,303.1L1232.7,301.8L1233.4,300.5L1234.2,299.2L1235.0,297.9L1235.8,296.6L1236.6,295.4L1237.5,294.2L1238.3,293.0L1239.2,291.8L1240.1,290.6L1241.1,289.5L1242.0,288.4L1243.0,287.3L1244.0,286.3L1245.1,285.3L1246.2,284.3L1247.3,283.3L1248.4,282.4L1249.6,281.6L1250.8,280.8L1252.1,280.0L1253.4,279.3L1254.8,278.6L1256.2,278.0L1257.6,277.3L1259.0,276.7L1260.4,276.1L1261.8,275.4L1263.1,274.7L1264.4,273.9L1265.6,273.0L1266.7,272.0L1267.7,270.9L1268.6,269.7L1269.5,268.4L1270.3,267.1L1271.0,265.7L1271.7,264.3L1272.4,262.9L1273.1,261.5L1273.8,260.1L1274.5,258.8L1275.3,257.4L1276.0,256.1L1276.8,254.8L1277.6,253.5L1278.4,252.2L1279.3,251.0L1280.2,249.8L1281.2,248.7L1282.2,247.6L1283.3,246.5L1284.5,245.5L1285.7,244.6L1287.0,243.8L1288.3,243.1L1289.6,242.5L1291.0,242.1L1292.3,241.8L1293.7,241.8L1295.2,241.9L1296.6,242.3L1298.0,242.9L1299.4,243.7L1300.8,244.7L1302.2,245.8L1303.6,246.8L1305.0,247.9L1306.3,248.8L1307.7,249.5L1309.0,249.9L1310.2,250.1L1311.5,250.0L1312.7,249.7L1314.0,249.3L1315.2,248.6L1316.4,247.8L1317.6,247.0L1318.8,246.1L1320.1,245.2L1321.3,244.2L1322.5,243.3L1323.8,242.4L1325.1,241.5L1326.3,240.6L1327.6,239.6L1328.8,238.7L1330.0,237.8L1331.2,236.8L1332.4,235.8L1333.6,234.9L1334.7,233.8L1335.8,232.8L1336.9,231.8L1338.0,230.7L1339.1,229.7L1340.1,228.6L1341.1,227.5L1342.1,226.3L1343.1,225.2L1344.0,224.1L1344.9,222.9L1345.9,221.7L1346.8,220.6L1347.7,219.4L1348.5,218.2L1349.4,217.0L1350.3,215.7L1351.1,214.5L1351.9,213.3L1352.8,212.0L1353.6,210.8L1354.4,209.5L1355.2,208.2L1356.0,207.0L1356.8,205.7L1357.6,204.4L1358.4,203.1L1359.2,201.8L1360.0,200.5L1360.7,199.3L1361.5,198.0L1362.3,196.7L1363.1,195.4L1363.9,194.1L1364.7,192.8L1365.5,191.5L1366.3,190.2L1367.1,188.9L1368.0,187.7L1368.8,186.4L1369.6,185.1L1370.5,183.9L1371.3,182.6L1372.2,181.4L1373.1,180.1L1374.0,178.9L1374.9,177.6L1375.9,176.4L1376.8,175.2L1377.8,174.0L1378.8,172.9L1379.8,171.7L1380.8,170.6L1381.8,169.5L1382.9,168.4L1384.0,167.4L1385.1,166.4L1386.3,165.5L1387.4,164.6L1388.6,163.7L1389.8,162.9L1391.1,162.1L1392.4,161.4L1393.7,160.7L1395.0,160.1L1396.4,159.6L1397.8,159.1L1399.2,158.7L1400.7,158.4L1402.2,158.1L1403.8,157.9L1405.4,157.8L1407.0,157.8L1408.7,157.9" stroke="#000"/>
<path d="M853.8,233.2L855.2,233.9L856.5,234.5L857.7,235.3L858.9,236.1L860.1,237.0L861.2,237.9L862.2,238.9L863.2,239.9L864.2,241.0L865.1,242.2L866.0,243.3L866.2,243.7M873.5,258.4L874.0,259.8L874.6,261.3L875.1,262.8L875.6,264.3L876.0,265.8L876.5,267.3L877.0,268.8L877.4,270.2L877.9,271.7L878.3,273.2L878.5,273.6M882.7,289.1L883.1,290.6L883.5,292.0L883.8,293.5L884.2,294.9L884.5,296.4L884.8,297.9L885.2,299.3L885.5,300.8L885.8,302.3L886.1,303.7L886.4,304.7M889.4,320.5L889.7,322.0L890.1,323.6L890.4,325.1L890.8,326.6L891.3,328.0L891.9,329.3L892.5,330.5L893.3,331.6L894.3,332.6L894.3,332.6M906.8,337.1L907.9,337.9L908.9,338.8L909.8,339.9L910.5,341.1L911.1,342.4L911.7,343.7L912.2,345.1L912.7,346.6L913.1,348.0L913.5,349.4L913.9,350.9L914.0,351.4M916.4,367.6L916.5,369.2L916.6,370.7L916.7,372.3L916.8,373.8L916.9,375.4L917.0,376.9L917.1,378.5L917.2,380.0L917.3,381.5L917.4,383.1L917.4,383.6" stroke="#00f"/>
<path d="M930.0,381.9L930.1,381.3L930.2,379.8L930.3,378.3L930.4,376.7L930.6,375.2L930.7,373.7L930.8,372.3L931.0,370.8L931.1,369.3L931.3,367.8L931.5,366.3L931.5,366.0M933.5,350.1L933.7,348.6L933.9,347.2L934.1,345.7L934.4,344.2L934.6,342.7L934.8,341.3L935.0,339.8L935.2,338.3L935.4,336.8L935.6,335.4L935.7,334.5M937.9,318.9L938.1,317.4L938.3,315.9L938.5,314.3L938.7,312.8L938.8,311.3L939.0,309.8L939.2,308.2L939.4,306.7L939.6,305.2L939.8,303.6L939.9,302.9M942.5,286.9L942.8,285.4L943.1,283.9L943.4,282.4L943.8,280.9L944.1,279.5L944.5,278.0L944.9,276.6L945.3,275.1L945.7,273.7L946.2,272.3L946.4,271.8M952.6,257.5L953.3,256.2L954.1,255.0L954.8,253.8L955.7,252.6L956.5,251.4L957.4,250.2L958.3,249.0L959.2,247.9L960.1,246.8L961.1,245.6L962.1,244.6L962.2,244.4M974.2,233.5L975.4,232.6L976.6,231.6L977.8,230.8L979.1,229.9L980.3,229.0L981.6,228.2L982.9,227.3L984.2,226.5L985.5,225.7L986.8,224.9L987.5,224.5M1001.7,217.1L1003.1,216.5L1004.5,216.0L1006.0,215.4L1007.4,214.9L1008.8,214.4L1010.2,213.9L1011.7,213.5L1013.1,213.0L1014.6,212.6L1016.0,212.3L1016.6,212.2M1032.2,210.4L1032.4,210.4L1033.9,210.4L1035.4,210.5L1036.9,210.6L1038.4,210.7L1039.8,210.9L1041.3,211.1L1042.8,211.4L1044.2,211.7L1045.7,212.0L1047.1,212.4L1047.7,212.6M1061.8,219.3L1063.0,220.2L1064.1,221.1L1065.3,222.0L1066.4,222.9L1067.5,223.9L1068.5,224.9L1069.6,226.0L1070.6,227.1L1071.6,228.2L1072.5,229.3L1073.5,230.4L1073.6,230.6M1082.4,244.4L1083.1,245.7L1083.8,247.1L1084.5,248.5L1085.1,249.9L1085.8,251.3L1086.4,252.7L1087.0,254.1L1087.7,255.5L1088.3,256.9L1088.9,258.3L1089.1,259.0M1094.9,274.0L1095.4,275.4L1095.9,276.9L1096.4,278.3L1096.8,279.7L1097.3,281.2L1097.8,282.6L1098.2,284.1L1098.7,285.5L1099.1,286.9L1099.6,288.4L1099.8,289.2M1104.0,304.7L1104.2,305.8L1104.6,307.2L1104.9,308.7L1105.3,310.2L1105.6,311.6L1105.9,313.1L1106.3,314.5L1106.6,316.0L1106.9,317.5L1107.2,318.9L1107.5,320.3M1110.3,336.0L1110.4,336.6L1110.7,338.1L1110.9,339.6L1111.1,341.1L1111.4,342.5L1111.6,344.0L1111.8,345.5L1112.0,347.0L1112.2,348.5L1112.5,350.0L1112.7,351.5L1112.7,351.8M1114.7,367.7L1114.7,367.9L1114.8,369.4L1115.0,370.9L1115.2,372.4L1115.3,373.9L1115.5,375.4L1115.6,376.9L1115.8,378.4L1115.9,379.9L1116.1,381.4L1116.2,383.0L1116.3,383.6" stroke="#00f"/>
<path d="M1145.8,382.4L1145.8,381.4L1145.9,379.9L1146.0,378.4L1146.1,376.9L1146.3,375.4L1146.4,373.9L1146.6,372.4L1146.7,370.9L1146.9,369.4L1147.1,367.9L1147.3,366.5M1149.8,350.7L1149.9,350.0L1150.2,348.5L1150.4,347.0L1150.7,345.6L1151.0,344.1L1151.3,342.6L1151.6,341.1L1151.9,339.6L1152.2,338.1L1152.5,336.7L1152.8,335.2L1152.8,335.0M1156.1,319.3L1156.2,318.9L1156.5,317.4L1156.8,315.9L1157.1,314.5L1157.3,313.0L1157.6,311.5L1157.9,310.0L1158.2,308.5L1158.5,307.1L1158.8,305.6L1159.1,304.1L1159.2,303.6M1162.6,288.0L1163.0,286.6L1163.3,285.1L1163.7,283.7L1164.1,282.2L1164.4,280.8L1164.8,279.3L1165.2,277.9L1165.7,276.4L1166.1,275.0L1166.5,273.6L1167.0,272.2L1167.0,272.1M1172.7,256.7L1173.3,255.3L1174.0,253.9L1174.6,252.5L1175.3,251.1L1176.0,249.8L1176.7,248.4L1177.4,247.0L1178.2,245.7L1178.9,244.3L1179.7,243.0L1180.2,242.3M1189.7,229.2L1190.7,228.1L1191.7,227.0L1192.8,225.9L1193.8,224.8L1194.9,223.8L1196.1,222.8L1197.2,221.9L1198.4,221.0L1199.5,220.1L1200.7,219.3L1201.1,219.0M1215.2,212.8L1216.6,212.5L1218.0,212.3L1219.5,212.0L1220.9,211.9L1222.4,211.7L1223.9,211.6L1225.4,211.6L1226.9,211.5L1228.4,211.6L1229.9,211.6L1230.9,211.7M1246.5,214.2L1248.0,214.6L1249.5,215.0L1251.0,215.5L1252.4,215.9L1253.9,216.4L1255.3,216.9L1256.8,217.4L1258.2,218.0L1259.6,218.5L1261.0,219.1L1262.3,219.6M1277.1,227.2L1278.4,228.0L1279.7,228.8L1281.0,229.6L1282.3,230.4L1283.5,231.3L1284.8,232.1L1286.0,232.9L1287.3,233.8L1288.5,234.7L1289.7,235.5M1301.1,245.2L1302.2,246.3L1303.1,247.4L1304.1,248.5L1304.9,249.7L1305.8,250.9L1306.6,252.1L1307.4,253.4L1308.1,254.6L1308.8,255.9L1309.4,257.3L1310.0,258.6L1310.1,258.8M1315.4,274.2L1315.9,275.6L1316.3,277.1L1316.7,278.5L1317.1,280.0L1317.4,281.4L1317.8,282.9L1318.2,284.4L1318.5,285.8L1318.9,287.3L1319.2,288.8L1319.4,289.5M1322.5,305.0L1322.8,306.5L1323.0,308.0L1323.3,309.5L1323.5,311.0L1323.8,312.5L1324.0,314.0L1324.2,315.5L1324.4,317.0L1324.7,318.5L1324.9,320.0L1325.0,320.7M1327.0,336.5L1327.1,338.0L1327.3,339.5L1327.5,341.1L1327.6,342.6L1327.8,344.1L1328.0,345.6L1328.1,347.1L1328.3,348.6L1328.4,350.1L1328.6,351.6L1328.7,352.3M1330.3,368.1L1330.4,369.6L1330.6,371.1L1330.7,372.6L1330.9,374.1L1331.1,375.6L1331.2,377.1L1331.4,378.6L1331.6,380.1L1331.7,381.5L1331.9,383.0L1332.0,384.0" stroke="#00f"/>
<path d="M1342.9,382.6L1343.0,381.4L1343.2,379.9L1343.4,378.4L1343.6,377.0L1343.9,375.5L1344.1,374.1L1344.3,372.6L1344.6,371.1L1344.8,369.6L1345.0,368.1L1345.2,366.8M1347.3,350.9L1347.6,349.3L1347.8,347.7L1348.0,346.1L1348.3,344.6L1348.7,343.1L1349.2,341.8L1349.7,340.5L1350.4,339.3L1351.2,338.3L1351.5,338.0M1364.5,334.0L1365.7,333.3L1366.7,332.5L1367.6,331.6L1368.4,330.4L1369.1,329.2L1369.6,327.9L1370.2,326.5L1370.6,325.1L1371.0,323.6L1371.5,322.2L1371.8,320.7L1371.9,320.4M1375.6,304.8L1375.7,304.4L1376.1,302.9L1376.4,301.4L1376.7,300.0L1377.0,298.5L1377.4,297.0L1377.7,295.5L1378.0,294.0L1378.3,292.6L1378.7,291.1L1379.0,289.6L1379.1,289.2M1383.0,273.7L1383.0,273.5L1383.4,272.0L1383.8,270.5L1384.3,269.1L1384.7,267.6L1385.2,266.2L1385.6,264.7L1386.1,263.3L1386.6,261.8L1387.1,260.3L1387.6,258.9L1387.8,258.4M1394.7,244.0L1394.9,243.7L1395.7,242.5L1396.6,241.3L1397.5,240.2L1398.5,239.1L1399.6,238.1L1400.7,237.1L1401.8,236.2L1403.0,235.3L1404.2,234.5L1405.6,233.8L1406.4,233.4" stroke="#00f"/>
<path d="M853.6,166.8L854.9,167.6L856.2,168.5L857.4,169.4L858.5,170.3L859.7,171.3L860.7,172.3L861.8,173.4L862.7,174.5L863.7,175.6L864.6,176.8L865.1,177.4M867.2,180.7L867.8,181.7L868.6,183.0L869.3,184.3L869.9,185.7L870.5,187.1L870.8,187.7M872.3,191.3L872.8,192.8L873.3,194.3L873.8,195.7L874.3,197.2L874.8,198.8L875.2,200.3L875.7,201.7L876.2,203.2L876.7,204.7L877.2,206.1L877.3,206.2M878.9,209.8L879.1,210.1L879.8,211.4L880.6,212.6L881.5,213.7L882.4,214.8L883.4,215.7L883.7,216.0M887.1,218.1L888.4,218.7L889.8,219.3L891.2,220.0L892.6,220.6L893.9,221.4L895.1,222.2L896.2,223.1L897.2,224.1L898.1,225.3L898.5,225.9M900.1,229.0L900.3,229.5L901.0,231.0L901.8,232.5L902.6,233.9L903.5,235.2M906.5,236.6L907.5,235.9L908.4,234.9L909.3,233.6L910.1,232.1L910.7,230.7L911.3,229.2L911.9,227.8L912.4,226.3L912.9,224.9L913.4,223.4L913.9,222.0L913.9,222.0M915.7,218.2L915.9,217.8L916.7,216.5L917.5,215.2L918.5,214.0L919.5,212.8L920.7,211.8L920.8,211.7M924.6,210.0L925.9,210.3L927.3,210.9L928.6,211.7L930.0,212.5L931.3,213.2L932.7,213.5L934.1,213.5L935.6,213.4L937.0,213.2L938.4,212.9L939.7,212.8M943.7,212.6L944.4,212.7L945.9,212.8L947.4,212.8L949.0,212.8L950.5,212.8L951.6,212.7M955.6,212.4L956.4,212.3L957.9,212.1L959.3,211.8L960.8,211.5L962.3,211.2L963.7,210.9L965.1,210.5L966.6,210.1L968.0,209.6L969.4,209.1L970.8,208.6L971.0,208.6M974.7,207.1L975.0,207.0L976.4,206.4L977.8,205.7L979.1,205.1L980.5,204.4L981.8,203.7L981.9,203.7M985.4,201.8L985.8,201.5L987.2,200.8L988.5,200.0L989.7,199.2L991.0,198.4L992.3,197.6L993.6,196.8L994.8,195.9L996.1,195.1L997.3,194.3L998.5,193.4L998.8,193.2M1002.1,190.8L1002.2,190.8L1003.4,189.9L1004.5,189.0L1005.7,188.1L1006.9,187.2L1008.1,186.3L1008.4,186.1M1011.6,183.6L1012.8,182.7L1014.0,181.8L1015.1,180.9L1016.3,180.0L1017.5,179.2L1018.7,178.3L1019.9,177.4L1021.1,176.5L1022.4,175.6L1023.6,174.7L1024.5,174.1M1027.8,171.9L1028.7,171.3L1030.0,170.4L1031.3,169.6L1032.6,168.8L1034.0,168.0L1034.5,167.6M1038.1,165.7L1039.4,165.0L1040.8,164.4L1042.3,163.8L1043.7,163.2L1045.1,162.7L1046.5,162.3L1048.0,161.9L1049.4,161.6L1050.9,161.4L1052.3,161.2L1052.9,161.2M1056.8,161.2L1058.1,161.3L1059.6,161.6L1061.0,161.9L1062.5,162.2L1063.9,162.7L1064.4,162.9M1068.1,164.3L1069.4,165.0L1070.7,165.7L1072.0,166.5L1073.3,167.4L1074.5,168.2L1075.7,169.2L1076.8,170.1L1077.9,171.1L1079.0,172.1L1080.0,173.2L1080.5,173.7M1083.0,176.7L1083.8,177.8L1084.6,179.0L1085.5,180.2L1086.3,181.5L1087.0,182.8L1087.3,183.3M1089.1,186.8L1089.8,188.1L1090.5,189.5L1091.1,190.9L1091.7,192.3L1092.3,193.7L1092.8,195.1L1093.4,196.5L1094.0,198.0L1094.5,199.4L1095.0,200.8L1095.3,201.5M1096.6,205.3L1097.1,206.6L1097.5,208.0L1098.0,209.5L1098.5,210.9L1099.0,212.3L1099.1,212.9M1100.3,216.7L1100.8,218.1L1101.2,219.6L1101.7,221.0L1102.1,222.5L1102.5,223.9L1102.9,225.4L1103.3,226.8L1103.7,228.3L1104.1,229.7L1104.5,231.2L1104.7,231.9M1105.7,235.7L1106.0,237.0L1106.3,238.5L1106.7,239.9L1107.0,241.4L1107.4,242.8L1107.5,243.4M1108.4,247.2L1108.7,248.7L1109.0,250.1L1109.3,251.6L1109.6,253.1L1109.9,254.5L1110.2,256.0L1110.5,257.5L1110.8,258.9L1111.0,260.4L1111.3,261.9L1111.5,262.9M1112.2,266.8L1112.4,267.8L1112.6,269.3L1112.9,270.7L1113.1,272.2L1113.3,273.7L1113.5,274.7M1114.1,278.7L1114.3,279.6L1114.5,281.1L1114.7,282.6L1114.9,284.1L1115.1,285.5L1115.3,287.0L1115.5,288.5L1115.7,290.0L1115.9,291.5L1116.1,293.0L1116.3,294.5L1116.3,294.5M1116.8,298.5L1116.8,299.0L1117.0,300.5L1117.2,301.9L1117.3,303.4L1117.5,304.9L1117.7,306.4L1117.7,306.5M1118.1,310.4L1118.1,310.9L1118.3,312.4L1118.4,313.9L1118.6,315.4L1118.7,316.9L1118.9,318.4L1119.0,319.9L1119.1,321.4L1119.3,322.9L1119.4,324.4L1119.5,325.9L1119.6,326.4M1119.9,330.4L1119.9,330.5L1120.0,332.0L1120.2,333.5L1120.3,335.0L1120.4,336.5L1120.5,338.0L1120.6,338.3M1120.9,342.3L1120.9,342.5L1121.0,344.0L1121.1,345.5L1121.2,347.0L1121.3,348.5L1121.4,350.0L1121.5,351.5L1121.7,353.0L1121.8,354.5L1121.9,356.0L1122.0,357.5L1122.0,358.3M1122.3,362.3L1122.4,363.5L1122.5,365.0L1122.6,366.5L1122.7,368.0L1122.8,369.5L1122.9,370.2M1123.1,374.2L1123.2,375.5L1123.3,377.0L1123.4,378.5L1123.6,380.0L1123.7,381.5L1123.8,383.0L1123.9,384.5L1124.0,386.0L1124.1,387.5L1124.2,389.0L1124.3,390.2M1124.6,394.2L1124.7,394.9" stroke="#f00"/>
<path d="M1138.9,391.1L1139.0,390.5L1139.0,389.0L1139.1,387.5L1139.2,386.0L1139.3,384.5L1139.4,383.2M1139.7,379.2L1139.7,378.5L1139.8,377.0L1139.9,375.5L1140.0,374.0L1140.1,372.5L1140.2,371.0L1140.3,369.5L1140.4,368.0L1140.5,366.5L1140.6,365.0L1140.7,363.5L1140.7,363.2M1141.0,359.2L1141.0,359.0L1141.1,357.5L1141.2,356.0L1141.3,354.5L1141.5,353.0L1141.6,351.5L1141.6,351.2M1141.9,347.2L1141.9,347.0L1142.1,345.5L1142.2,344.0L1142.3,342.5L1142.4,341.0L1142.6,339.5L1142.7,338.0L1142.8,336.5L1142.9,335.0L1143.1,333.5L1143.2,332.0L1143.3,331.3M1143.6,327.3L1143.8,326.0L1143.9,324.5L1144.1,323.0L1144.2,321.5L1144.4,320.0L1144.4,319.4M1144.8,315.4L1145.0,314.0L1145.1,312.5L1145.3,311.0L1145.5,309.5L1145.6,308.0L1145.8,306.5L1146.0,305.0L1146.2,303.5L1146.3,302.0L1146.5,300.5L1146.6,299.5M1147.1,295.5L1147.2,294.5L1147.4,293.0L1147.6,291.5L1147.8,290.0L1148.0,288.5L1148.2,287.6M1148.7,283.6L1148.8,282.5L1149.1,281.0L1149.3,279.6L1149.5,278.1L1149.7,276.6L1149.9,275.1L1150.2,273.6L1150.4,272.1L1150.6,270.6L1150.9,269.2L1151.1,267.8M1151.7,263.8L1151.8,263.2L1152.1,261.8L1152.3,260.3L1152.6,258.8L1152.8,257.3L1153.1,256.0M1153.8,252.0L1153.9,251.4L1154.2,250.0L1154.5,248.5L1154.7,247.0L1155.0,245.6L1155.3,244.1L1155.6,242.6L1155.9,241.2L1156.2,239.7L1156.5,238.2L1156.9,236.8L1157.0,236.3M1157.9,232.4L1157.9,232.4L1158.2,231.0L1158.6,229.5L1158.9,228.1L1159.3,226.6L1159.7,225.1L1159.8,224.7M1160.9,220.8L1160.9,220.8L1161.3,219.4L1161.7,217.9L1162.1,216.5L1162.6,215.0L1163.0,213.6L1163.5,212.1L1163.9,210.7L1164.4,209.3L1164.9,207.8L1165.4,206.4L1165.7,205.6M1167.1,201.8L1167.5,200.6L1168.1,199.2L1168.7,197.8L1169.3,196.4L1169.9,195.0L1170.2,194.4M1171.9,190.8L1172.6,189.5L1173.3,188.1L1174.0,186.8L1174.8,185.5L1175.6,184.2L1176.4,183.0L1177.3,181.8L1178.1,180.6L1179.0,179.4L1179.9,178.3M1182.5,175.5L1183.0,175.0L1184.1,173.9L1185.2,173.0L1186.3,172.0L1187.5,171.1L1188.2,170.7M1191.3,168.6L1192.6,167.9L1194.0,167.2L1195.3,166.6L1196.7,166.0L1198.1,165.5L1199.6,165.1L1201.0,164.7L1202.5,164.4L1203.9,164.1L1205.4,163.9L1206.2,163.9M1210.1,163.9L1211.3,164.0L1212.8,164.1L1214.3,164.4L1215.7,164.7L1217.2,165.1L1217.8,165.2M1221.5,166.5L1223.0,167.0L1224.4,167.6L1225.8,168.2L1227.2,168.9L1228.6,169.6L1230.0,170.3L1231.3,171.0L1232.7,171.7L1234.0,172.4L1235.3,173.2L1235.7,173.5M1239.1,175.5L1239.1,175.5L1240.4,176.3L1241.6,177.2L1242.9,178.0L1244.1,178.8L1245.3,179.7L1245.7,180.0M1248.9,182.3L1250.0,183.2L1251.2,184.1L1252.4,185.1L1253.5,186.0L1254.7,187.0L1255.8,187.9L1256.9,188.9L1258.1,189.8L1259.2,190.8L1260.4,191.8L1261.0,192.3M1264.0,194.7L1265.0,195.5L1266.2,196.4L1267.4,197.3L1268.7,198.1L1269.9,198.9L1270.4,199.2M1273.8,201.2L1275.1,201.9L1276.4,202.6L1277.8,203.3L1279.1,204.0L1280.5,204.7L1281.8,205.3L1283.2,206.0L1284.6,206.6L1285.9,207.2L1287.3,207.8L1288.6,208.3M1292.5,209.6L1293.0,209.7L1294.4,210.1L1295.8,210.4L1297.3,210.7L1298.8,211.0L1300.2,211.2L1300.6,211.2M1304.7,211.4L1306.2,211.4L1307.7,211.4L1309.2,211.4L1310.7,211.4L1312.3,211.4L1313.8,211.4L1315.3,211.5L1316.8,211.5L1318.3,211.7L1319.8,211.8L1320.4,212.0M1324.2,212.8L1325.6,213.2L1327.0,213.5L1328.4,213.5L1329.7,213.1L1331.1,212.3L1331.6,212.0M1334.9,210.0L1336.2,209.8L1337.6,210.0L1338.8,210.7L1340.1,211.6L1341.2,212.6L1342.2,213.7L1343.1,214.9L1343.9,216.1L1344.6,217.3L1345.2,218.6L1345.8,220.0L1345.8,220.1M1347.2,223.9L1347.4,224.4L1347.8,226.0L1348.3,227.6L1348.9,229.3L1349.4,231.1L1349.6,231.5M1351.1,235.2L1351.4,235.8L1352.2,236.9L1353.0,237.6L1354.0,237.9L1355.0,237.6L1356.1,237.0L1357.1,236.0L1358.0,234.8L1358.7,233.4L1359.3,231.8L1359.9,230.3L1360.5,228.7L1360.5,228.7M1362.4,225.1L1362.7,224.7L1363.7,223.7L1364.8,222.8L1366.0,222.0L1367.2,221.3L1368.6,220.8L1368.9,220.7M1372.7,219.5L1373.1,219.4L1374.5,218.9L1375.9,218.3L1377.2,217.6L1378.3,216.8L1379.2,215.7L1380.1,214.6L1380.8,213.3L1381.5,212.0L1382.1,210.6L1382.7,209.2L1383.1,208.4M1384.5,204.6L1384.9,203.4L1385.4,202.0L1385.9,200.5L1386.4,199.0L1386.9,197.5L1387.0,197.1M1388.3,193.3L1388.3,193.1L1388.8,191.7L1389.3,190.2L1389.9,188.8L1390.4,187.4L1391.0,186.0L1391.5,184.6L1392.2,183.2L1392.8,181.9L1393.5,180.6L1394.2,179.3L1394.7,178.6M1396.9,175.3L1397.5,174.6L1398.5,173.5L1399.5,172.5L1400.6,171.5L1401.7,170.5L1402.7,169.8M1406.1,167.7L1407.0,167.3L1408.5,166.6" stroke="#f00"/>
</g>
<text x="841.3" y="28.8" font-size="36" text-anchor="end" fill="#262626">15</text>
<text x="841.3" y="101.8" font-size="36" text-anchor="end" fill="#262626">5</text>
<text x="841.3" y="175.8" font-size="36" text-anchor="end" fill="#262626">-5</text>
<text x="841.3" y="248.8" font-size="36" text-anchor="end" fill="#262626">-15</text>
<text x="841.3" y="322.8" font-size="36" text-anchor="end" fill="#262626">-25</text>
<text x="841.3" y="395.8" font-size="36" text-anchor="end" fill="#262626">-35</text>
<text transform="translate(867.5,408.5) rotate(-45)" font-size="36" text-anchor="end" dominant-baseline="central" fill="#262626">-180</text>
<text transform="translate(960.5,408.5) rotate(-45)" font-size="36" text-anchor="end" dominant-baseline="central" fill="#262626">-120</text>
<text transform="translate(1052.5,408.5) rotate(-45)" font-size="36" text-anchor="end" dominant-baseline="central" fill="#262626">-60</text>
<text transform="translate(1145.5,408.5) rotate(-45)" font-size="36" text-anchor="end" dominant-baseline="central" fill="#262626">0</text>
<text transform="translate(1237.5,408.5) rotate(-45)" font-size="36" text-anchor="end" dominant-baseline="central" fill="#262626">60</text>
<text transform="translate(1330.5,408.5) rotate(-45)" font-size="36" text-anchor="end" dominant-baseline="central" fill="#262626">120</text>
<text transform="translate(1422.5,408.5) rotate(-45)" font-size="36" text-anchor="end" dominant-baseline="central" fill="#262626">180</text>
<rect x="1226.5" y="20.5" width="178.0" height="118.0" fill="#fff" stroke="#262626" stroke-width="1.1"/>
<path d="M1232.0,41.9H1292.3" stroke="#000" stroke-width="4.3"/>
<path d="M1232.0,79.7H1292.3" stroke="#00f" stroke-width="4.3" stroke-dasharray="16,16"/>
<path d="M1232.0,117.5H1292.3" stroke="#f00" stroke-width="4.3" stroke-dasharray="16,4,8,4"/>
<text x="1296.3" y="52.7" font-size="32.3" fill="#000">8 GHz</text>
<text x="1296.3" y="90.5" font-size="32.3" fill="#000">13 GHz</text>
<text x="1296.3" y="128.3" font-size="32.3" fill="#000">18 GHz</text>
<text transform="translate(28.2,298.4) rotate(-90)" font-size="40" fill="#262626">Pattern (dB)</text>
<text x="289.1" y="470.3" font-size="40" fill="#262626"><tspan font-style="italic">θ</tspan> (degree)</text>
<text transform="translate(785.6,304.0) rotate(-90)" font-size="40" fill="#262626">Pattern (dB)</text>
<text x="1049.4" y="471.0" font-size="40" fill="#262626"><tspan font-style="italic">θ</tspan> (degree)</text>
<text x="407.8" y="512.0" font-size="34" fill="#000">(a)</text>
<text x="1049.4" y="512.0" font-size="34" fill="#000">(b)</text>
</svg></body></html>
